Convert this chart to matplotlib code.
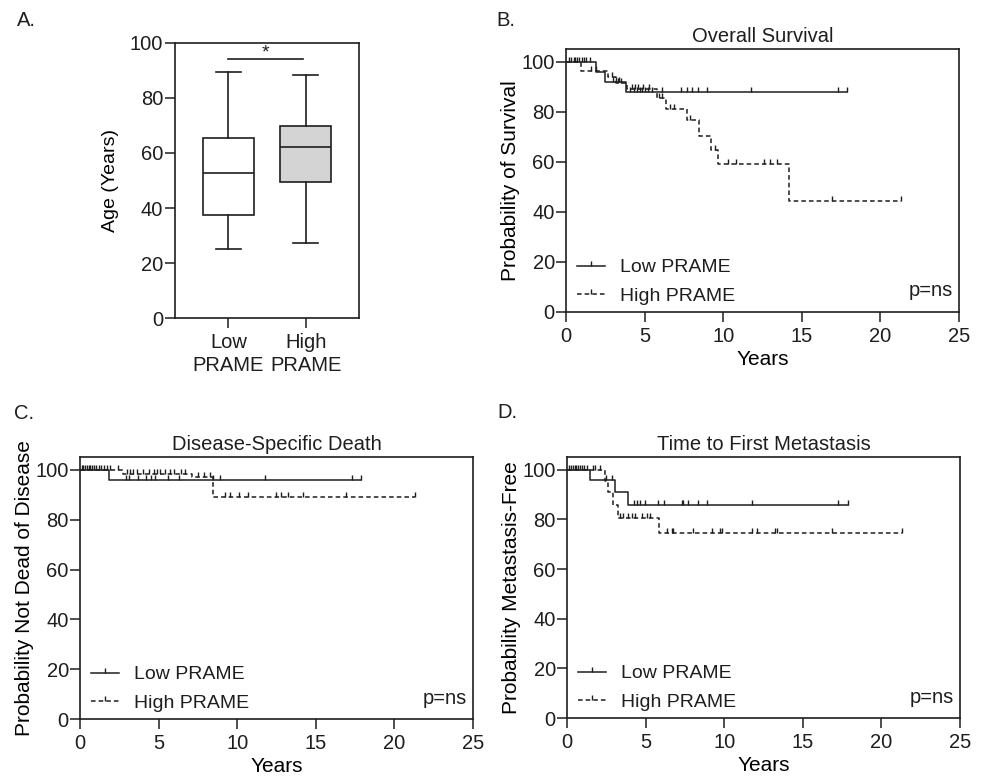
import numpy as np
import matplotlib
matplotlib.use("Agg")
from matplotlib import pyplot as plt
from matplotlib.lines import Line2D

plt.rcParams['font.family'] = ['Liberation Sans', 'DejaVu Sans']
plt.rcParams['font.size'] = 14
ink = '#1e1e1e'
plt.rcParams['text.color'] = ink
plt.rcParams['axes.edgecolor'] = ink
plt.rcParams['xtick.color'] = ink
plt.rcParams['ytick.color'] = ink

# ---- Panel A: age box plot (summary values)
age_groups = ["Low\nPRAME", "High\nPRAME"]
age_min = [25.2, 27.2]
age_q1 = [37.5, 49.5]
age_med = [52.7, 62.3]
age_q3 = [65.6, 69.9]
age_max = [89.3, 88.2]
age_colors = ["white", "#d4d4d4"]

# ---- Panel B: overall survival
os_low_t = [1.89, 2.48, 3.8]
os_low_s = [96.1, 92.1, 87.9]
os_low_c = [0.2, 0.35, 0.5, 0.6, 0.7, 0.85, 1.0, 1.15, 1.3, 1.5, 3.0, 3.2, 3.4,
            4.1, 4.3, 4.5, 4.7, 4.85, 5.0, 5.2, 5.5, 6.1, 7.3, 7.7, 8.0, 8.4,
            8.95, 11.8, 17.3, 17.9]
os_high_t = [0.93, 2.7, 3.2, 3.9, 5.77, 6.36, 7.68, 8.48, 9.2, 9.69, 14.19]
os_high_s = [96.2, 93.9, 91.5, 89.1, 85.5, 81.1, 76.8, 70.4, 64.8, 59.1, 44.4]
os_high_c = [1.6, 1.9, 2.9, 3.3, 3.5, 4.2, 4.4, 4.6, 4.9, 5.3, 5.9, 6.1, 6.6,
             6.9, 7.9, 9.5, 10.3, 10.8, 12.6, 13.0, 13.4, 16.9, 21.3]

# ---- Panel C: disease-specific death
dsd_low_t = [1.87]
dsd_low_s = [96.0]
dsd_low_c = [0.1, 0.2, 0.3, 0.45, 0.55, 0.65, 0.75, 0.9, 1.05, 1.2, 1.35, 1.5,
             1.7, 2.9, 3.1, 3.7, 4.2, 4.5, 4.8, 5.6, 6.3, 8.47, 8.9, 11.8,
             17.3, 17.9]
dsd_high_t = [2.76, 7.1, 8.48]
dsd_high_s = [98.4, 97.3, 89.3]
dsd_high_c = [1.9, 2.45, 3.0, 3.2, 3.4, 3.6, 4.0, 4.4, 4.7, 4.9, 5.1, 5.4, 5.7,
              6.0, 6.4, 6.7, 7.5, 7.9, 8.3, 9.2, 9.55, 10.1, 10.7, 12.5, 12.8,
              13.25, 14.2, 16.9, 21.3]

# ---- Panel D: time to first metastasis
met_low_t = [1.46, 3.05, 3.9]
met_low_s = [96.1, 91.0, 85.7]
met_low_c = [0.1, 0.25, 0.4, 0.5, 0.6, 0.7, 0.8, 0.95, 1.1, 1.25, 2.48, 2.85,
             4.26, 4.43, 4.64, 4.96, 5.77, 6.17, 7.3, 7.4, 7.72, 8.36, 8.9,
             11.8, 17.26, 17.9]
met_high_t = [2.45, 2.6, 2.95, 3.25, 5.87]
met_high_s = [95.7, 91.1, 86.0, 80.6, 74.6]
met_high_c = [1.65, 1.8, 2.1, 3.4, 3.55, 3.9, 4.12, 4.33, 4.75, 5.07, 5.28,
              6.34, 6.66, 6.76, 8.0, 9.2, 9.73, 9.84, 11.75, 12.07, 13.23,
              13.34, 16.84, 21.33]

tick_mark = [(0, 0), (0, 1)]
dash = (3, 2)


def km_curve(ax, t, s, cens, dashed):
    times = np.array([0.0] + t)
    surv = np.array([100.0] + s)
    end = max(cens)
    xs = np.append(times, end)
    ys = np.append(surv, surv[-1])
    line, = ax.step(xs, ys, where='post', color=ink, lw=1.1)
    if dashed:
        line.set_dashes(dash)
    c = np.array(cens)
    cs = surv[np.searchsorted(times, c, side='right') - 1]
    ax.plot(c, cs, ls='none', marker=tick_mark, markersize=7.5, mec=ink,
            mew=1.0)


def km_panel(ax, title, ylabel, low, high):
    km_curve(ax, *low, dashed=False)
    km_curve(ax, *high, dashed=True)
    ax.set_xlim(0, 25)
    ax.set_ylim(0, 105.2)
    ax.set_xticks(range(0, 26, 5))
    ax.set_yticks(range(0, 101, 20))
    ax.set_title(title, pad=5, fontsize=14.5)
    ax.set_xlabel("Years", labelpad=2.5, fontsize=15)
    ax.set_ylabel(ylabel, labelpad=1, fontsize=15)
    ax.tick_params(direction='out', length=7, width=1.1, labelsize=14.5)
    ax.tick_params(axis='x', pad=4)
    ax.tick_params(axis='y', pad=1)
    for sp in ax.spines.values():
        sp.set_linewidth(1.2)
    h1 = Line2D([], [], color=ink, lw=1.1, marker=tick_mark, markersize=7,
                mew=1.0)
    h2 = Line2D([], [], color=ink, lw=1.1, marker=tick_mark, markersize=7,
                mew=1.0, dashes=dash)
    ax.legend([h1, h2], ["Low PRAME", "High PRAME"], loc='lower left',
              bbox_to_anchor=(-0.01, -0.028), frameon=False,
              handlelength=1.45, handletextpad=0.8, labelspacing=0.55,
              borderaxespad=0.35, numpoints=1, fontsize=14)
    ax.text(0.984, 0.08, "p=ns", transform=ax.transAxes, ha='right',
            va='center', fontsize=14.5)


fig = plt.figure(figsize=(9.86, 7.77), dpi=100)

axA = fig.add_axes([0.1775, 0.5907, 0.1866, 0.354])
axB = fig.add_axes([0.574, 0.5985, 0.3986, 0.3385])
axC = fig.add_axes([0.0811, 0.0746, 0.3986, 0.3372])
axD = fig.add_axes([0.575, 0.0759, 0.3986, 0.336])

# Panel A
stats = []
for i in range(len(age_groups)):
    stats.append(dict(whislo=age_min[i], q1=age_q1[i], med=age_med[i],
                      q3=age_q3[i], whishi=age_max[i], label=age_groups[i]))
bp = axA.bxp(stats, positions=[0, 1], widths=0.66, patch_artist=True,
             showfliers=False,
             boxprops=dict(edgecolor=ink, linewidth=1.2),
             medianprops=dict(color=ink, linewidth=1.2),
             whiskerprops=dict(color=ink, linewidth=1.2),
             capprops=dict(color=ink, linewidth=1.2), capwidths=0.33)
for patch, col in zip(bp['boxes'], age_colors):
    patch.set_facecolor(col)
axA.set_xlim(-0.69, 1.69)
axA.set_ylim(0, 100)
axA.set_yticks(range(0, 101, 20))
axA.set_ylabel("Age (Years)", labelpad=8, fontsize=14)
axA.tick_params(direction='out', length=7, width=1.1, labelsize=14.5)
axA.tick_params(axis='x', pad=4)
axA.tick_params(axis='y', pad=1.5)
for lab in axA.get_xticklabels():
    lab.set_linespacing(1.25)
for sp in axA.spines.values():
    sp.set_linewidth(1.2)
axA.plot([0, 0.97], [94.2, 94.2], color=ink, lw=1.2)
axA.text(0.485, 96.3, "*", ha='center', va='center', fontsize=14)

km_panel(axB, "Overall Survival", "Probability of Survival",
         (os_low_t, os_low_s, os_low_c), (os_high_t, os_high_s, os_high_c))
km_panel(axC, "Disease-Specific Death", "Probability Not Dead of Disease",
         (dsd_low_t, dsd_low_s, dsd_low_c),
         (dsd_high_t, dsd_high_s, dsd_high_c))
km_panel(axD, "Time to First Metastasis", "Probability Metastasis-Free",
         (met_low_t, met_low_s, met_low_c),
         (met_high_t, met_high_s, met_high_c))

fig.text(0.017, 0.974, "A.", fontsize=14.5, va='center')
fig.text(0.503, 0.974, "B.", fontsize=14.5, va='center')
fig.text(0.014, 0.468, "C.", fontsize=14.5, va='center')
fig.text(0.504, 0.469, "D.", fontsize=14.5, va='center')

fig.savefig("out.png", dpi=100)
